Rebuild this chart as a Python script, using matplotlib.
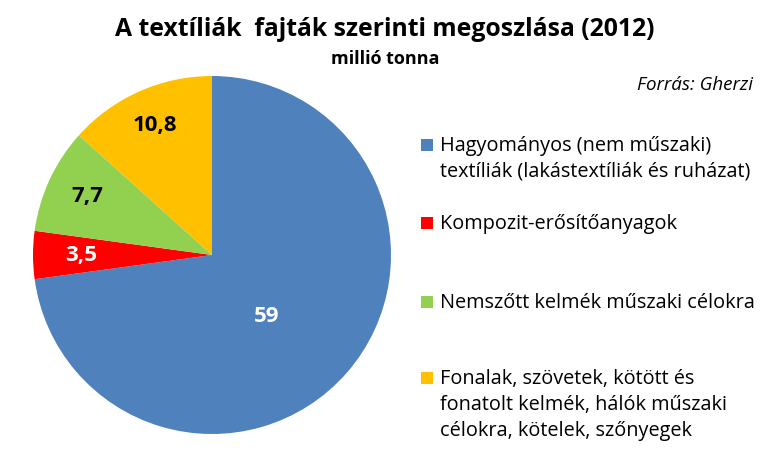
import matplotlib
matplotlib.use('Agg')
import matplotlib.pyplot as plt
from matplotlib.patches import Rectangle
import numpy as np

# Data
categories = [
    'Hagyományos (nem műszaki)\ntextíliák (lakástextíliák és ruházat)',
    'Kompozit-erősítőanyagok',
    'Nemszőtt kelmék műszaki célokra',
    'Fonalak, szövetek, kötött és\nfonatolt kelmék, hálók műszaki\ncélokra, kötelek, szőnyegek',
]
values = [59, 3.5, 7.7, 10.8]
value_labels = ['59', '3,5', '7,7', '10,8']
colors = ['#4F81BD', '#FF0000', '#92D050', '#FFC000']
label_colors = ['white', 'white', 'black', 'black']

W, H = 770, 450
fig = plt.figure(figsize=(W / 100, H / 100), dpi=100)

# Pie axes: center (212, 255) px, radius 179 px
cx, cy, r = 212, 255, 179
ax = fig.add_axes([(cx - r) / W, (H - cy - r) / H, 2 * r / W, 2 * r / H])
wedges, _ = ax.pie(values, colors=colors, startangle=90, counterclock=False,
                   radius=1, wedgeprops=dict(linewidth=0))
ax.set_xlim(-1, 1)
ax.set_ylim(-1, 1)
ax.set_aspect('equal')
ax.axis('off')

# value labels inside wedges (Excel puts the big one a bit lower)
label_r = [0.46, 0.73, 0.77, 0.79]
label_shift = [-7, 0, 0, 0]
for w, txt, col, lr, sh in zip(wedges, value_labels, label_colors, label_r, label_shift):
    ang = np.deg2rad((w.theta1 + w.theta2) / 2 + sh)
    ax.text(lr * np.cos(ang), lr * np.sin(ang), txt, ha='center', va='center',
            fontsize=16, fontweight='bold', color=col, family='Open Sans')

def px(x, y):
    return x / W, 1 - y / H

# Titles
fig.text(*px(385, 29), 'A textíliák  fajták szerinti megoszlása (2012)', ha='center', va='center',
         fontsize=17.8, fontweight='bold', family='Open Sans')
fig.text(*px(385, 59), 'millió tonna', ha='center', va='center',
         fontsize=13, fontweight='bold', family='Open Sans')
fig.text(*px(753, 85), 'Forrás: Gherzi', ha='right', va='center',
         fontsize=13.5, style='italic', family='Open Sans')

# Legend drawn manually (Excel style: marker aligned with first line)
legend_y = [145, 223, 302, 378]
for cat, col, ly in zip(categories, colors, legend_y):
    fig.patches.append(Rectangle(px(421, ly + 6), 12 / W, 12 / H, facecolor=col,
                                 edgecolor='none', transform=fig.transFigure, figure=fig))
    fig.text(*px(440, ly - 9), cat, ha='left', va='top', fontsize=14.3,
             linespacing=1.4, family='Open Sans')

fig.savefig('out.png', dpi=100)
